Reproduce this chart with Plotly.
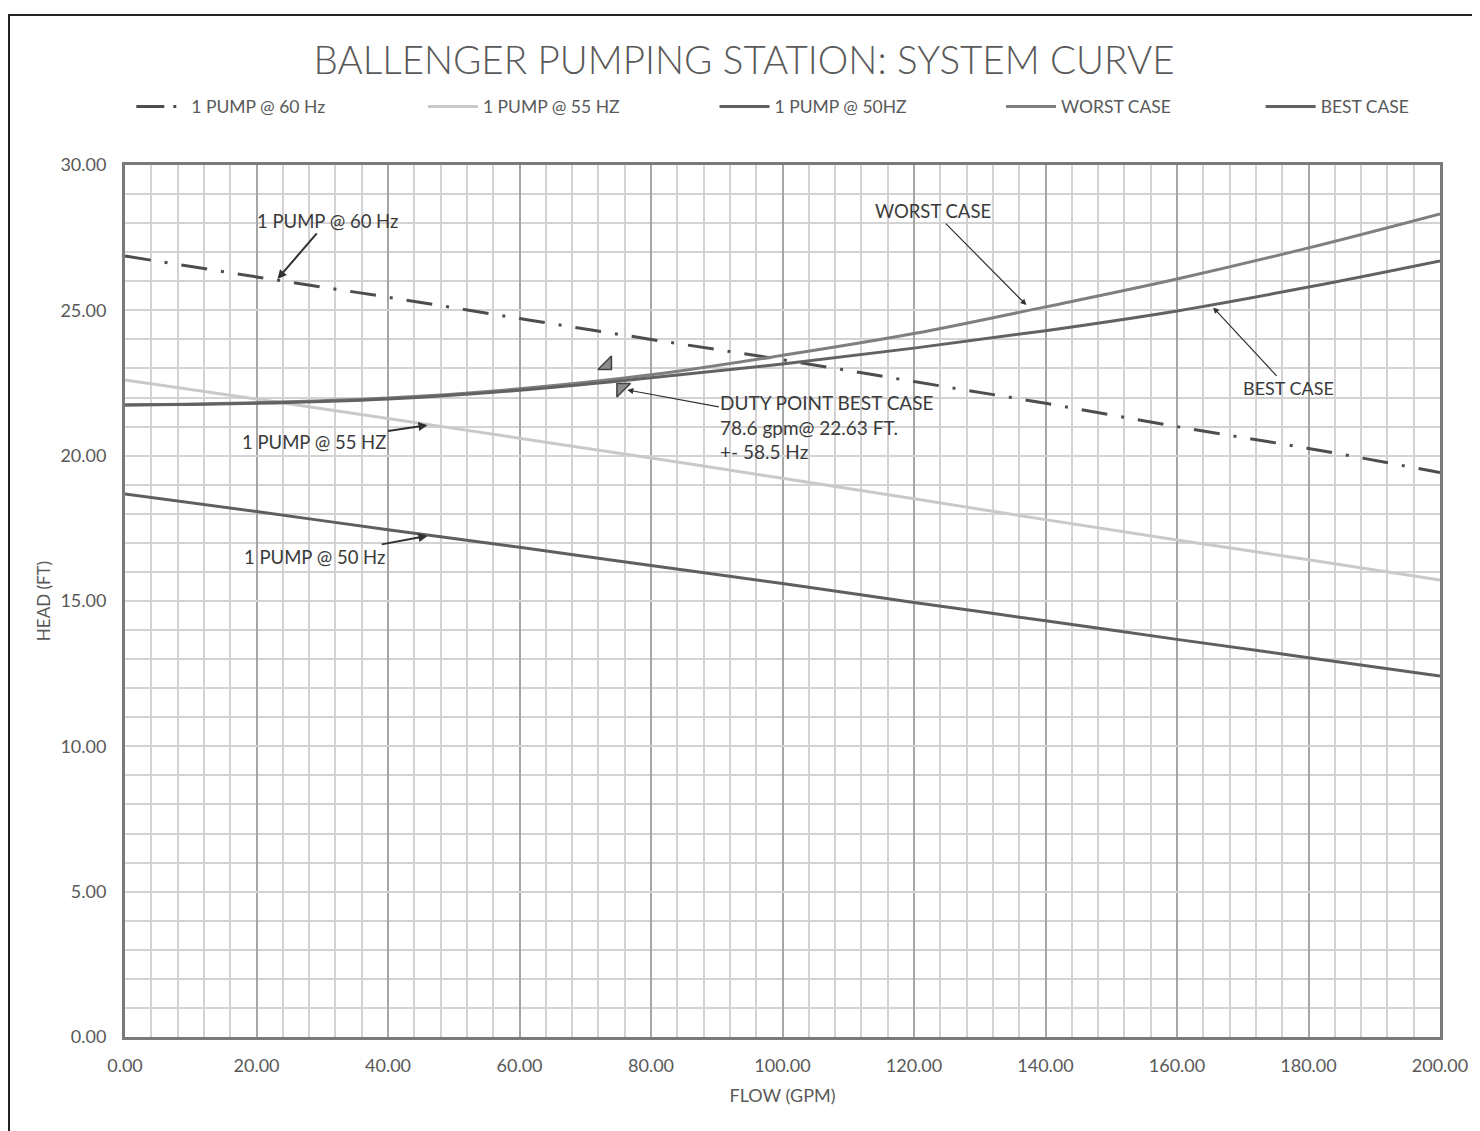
import plotly.graph_objects as go

# ---- data ----
flow = [0, 20, 40, 60, 80, 100, 120, 140, 160, 180, 200]
pump_60hz = [26.87, 26.15, 25.45, 24.72, 24.00, 23.30, 22.55, 21.80, 21.00, 20.25, 19.42]
pump_55hz = [22.60, 21.95, 21.28, 20.60, 19.92, 19.22, 18.52, 17.80, 17.10, 16.42, 15.72]
pump_50hz = [18.68, 18.08, 17.45, 16.85, 16.22, 15.60, 14.95, 14.32, 13.68, 13.05, 12.42]
worst_case = [21.74, 21.82, 21.98, 22.30, 22.78, 23.45, 24.20, 25.12, 26.08, 27.15, 28.32]
best_case = [21.74, 21.80, 21.95, 22.25, 22.68, 23.15, 23.70, 24.30, 24.98, 25.80, 26.70]
duty_x = [73.3, 75.5]
duty_y = [23.12, 22.33]
x_ticks = [0, 20, 40, 60, 80, 100, 120, 140, 160, 180, 200]
y_ticks = [0, 5, 10, 15, 20, 25, 30]
series_names = ["1 PUMP @ 60 Hz", "1 PUMP @ 55 HZ", "1 PUMP @ 50HZ", "WORST CASE", "BEST CASE"]

FONT = "Lato"
TXT = "#595959"

fig = go.Figure()
# 60 Hz curve (legend entry drawn by a legend-only twin with a shorter dash pattern)
fig.add_trace(go.Scatter(x=flow, y=pump_60hz, name=series_names[0], mode="lines", showlegend=False,
                         line=dict(color="#4d4d4d", width=3, dash="26px,14px,3px,14px", shape="spline")))
fig.add_trace(go.Scatter(x=[None], y=[None], name=series_names[0], mode="lines", legend="legend",
                         line=dict(color="#4d4d4d", width=3, dash="28px,9px,3px,20px")))
fig.add_trace(go.Scatter(x=flow, y=pump_55hz, name=series_names[1], mode="lines", legend="legend2",
                         line=dict(color="#c9c9c9", width=3, shape="spline")))
fig.add_trace(go.Scatter(x=flow, y=pump_50hz, name=series_names[2], mode="lines", legend="legend3",
                         line=dict(color="#5f5f5f", width=3, shape="spline")))
fig.add_trace(go.Scatter(x=flow, y=worst_case, name=series_names[3], mode="lines", legend="legend4",
                         line=dict(color="#7f7f7f", width=3, shape="spline")))
fig.add_trace(go.Scatter(x=flow, y=best_case, name=series_names[4], mode="lines", legend="legend5",
                         line=dict(color="#626262", width=3, shape="spline")))
fig.add_trace(go.Scatter(x=duty_x, y=duty_y, mode="markers", showlegend=False,
                         marker=dict(symbol=["triangle-se", "triangle-nw"], size=15,
                                     color="#8c8c8c", line=dict(color="#404040", width=1.5))))

def arrow(x, y, text, ax, ay, width=1.2, color="#303030", align="center", size=1.0, fsize=18.5):
    fig.add_annotation(x=x, y=y, text=text, ax=ax, ay=ay, showarrow=True,
                       arrowhead=2, arrowsize=size, arrowwidth=width, arrowcolor=color,
                       font=dict(family=FONT, size=fsize, color="#3a3a3a"), align=align)

arrow(23.2, 26.08, "1 PUMP @ 60 Hz", 50, -58, width=2, size=0.9)
arrow(137.1, 25.18, "WORST CASE", -93, -94)
arrow(165.5, 25.10, "BEST CASE", 75, 81, fsize=18)
arrow(46.0, 21.05, "1 PUMP @ 55 HZ", -113, 17, width=2, size=0.9)
arrow(46.0, 17.24, "1 PUMP @ 50 Hz", -113, 21, width=2, size=0.9)
arrow(76.4, 22.26, "DUTY POINT BEST CASE<br>78.6 gpm@ 22.63 FT.<br>+- 58.5 Hz", 200, 37,
      align="left", fsize=19)

# outer frame (top and left edges)
fig.add_shape(type="line", xref="paper", yref="paper", x0=-0.09, x1=1.05, y0=1.172, y1=1.172,
              line=dict(color="#222222", width=2))
fig.add_shape(type="line", xref="paper", yref="paper", x0=-0.0882, x1=-0.0882, y0=1.172, y1=-0.11,
              line=dict(color="#222222", width=2))

legend_x = [0.0048, 0.2266, 0.4483, 0.6662, 0.8636]
def leg(x):
    return dict(orientation="h", x=x, xanchor="left", y=1.067, yanchor="middle",
                font=dict(family=FONT, size=17.5, color=TXT), itemwidth=50,
                bgcolor="rgba(0,0,0,0)")

fig.update_layout(
    width=1472, height=1123,
    margin=dict(l=117, r=38, t=157, b=94),
    paper_bgcolor="white", plot_bgcolor="white",
    font=dict(family=FONT, color=TXT, size=18),
    title=dict(text="BALLENGER PUMPING STATION: SYSTEM CURVE", x=0.5, xanchor="center",
               y=0.953, yanchor="middle", font=dict(family=FONT, size=38.5, color=TXT, weight=300)),
    legend=leg(legend_x[0]), legend2=leg(legend_x[1]), legend3=leg(legend_x[2]),
    legend4=leg(legend_x[3]), legend5=leg(legend_x[4]),
    showlegend=True,
)
fig.update_xaxes(range=[0, 200], tickvals=x_ticks, ticktext=[f"{v:.2f}" for v in x_ticks],
                 tickfont=dict(size=18, color=TXT),
                 showgrid=True, gridcolor="#a6a6a6", gridwidth=2,
                 minor=dict(dtick=4, showgrid=True, gridcolor="#d3d3d3", gridwidth=2),
                 showline=True, linecolor="#7a7a7a", linewidth=3, mirror=True,
                 zeroline=False, ticks="", ticklabelstandoff=10,
                 title=dict(text="FLOW (GPM)", font=dict(size=18, color=TXT), standoff=15))
fig.update_yaxes(range=[0, 30], tickvals=y_ticks, ticktext=[f"{v:.2f}" for v in y_ticks],
                 tickfont=dict(size=18, color=TXT),
                 showgrid=True, gridcolor="#d3d3d3", gridwidth=2,
                 minor=dict(dtick=1, showgrid=True, gridcolor="#d3d3d3", gridwidth=2),
                 showline=True, linecolor="#7a7a7a", linewidth=3, mirror=True,
                 zeroline=False, ticks="", ticklabelstandoff=12,
                 title=dict(text="HEAD (FT)", font=dict(size=17, color=TXT), standoff=6))

fig.write_html("out.html")
